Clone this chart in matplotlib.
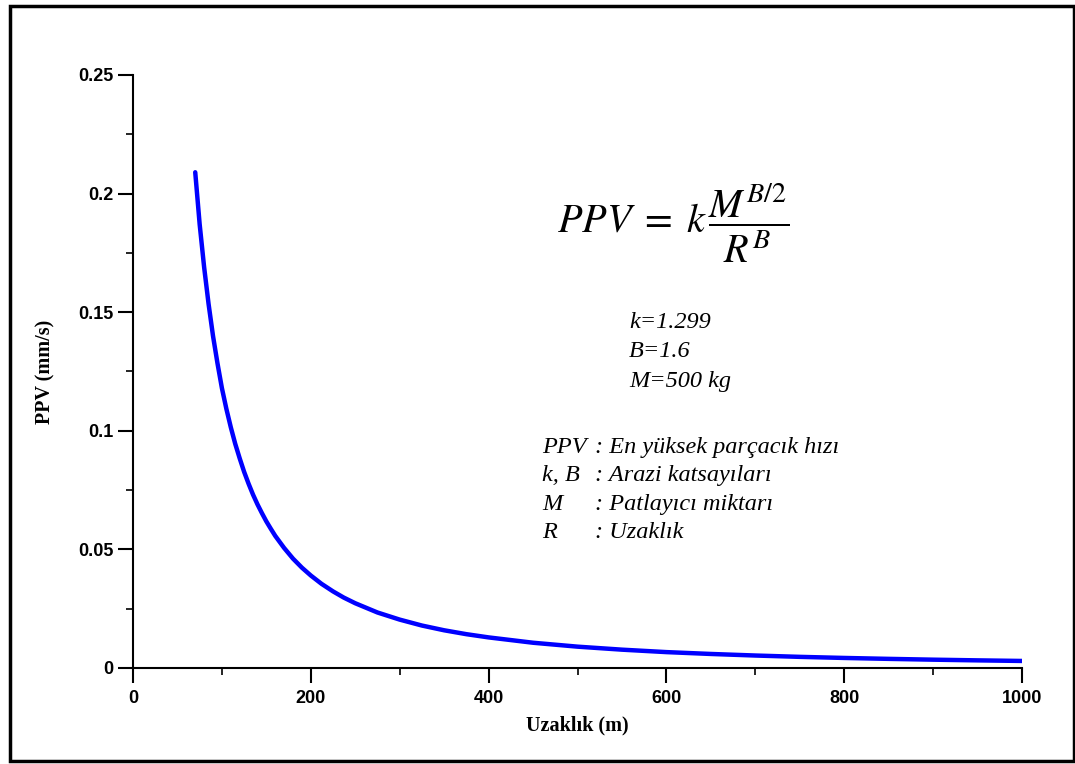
import matplotlib
matplotlib.use('Agg')
import matplotlib.pyplot as plt
from matplotlib.patches import Rectangle
from matplotlib.ticker import MultipleLocator, FormatStrFormatter
import numpy as np

# distance (m) and peak particle velocity (mm/s)
distance = [70, 75, 80, 85, 90, 95, 100, 105, 110, 115, 120, 125, 130, 135,
            140, 145, 150, 155, 160, 170, 180, 190, 200, 212, 225, 237, 250,
            275, 300, 325, 350, 375, 400, 450, 500, 550, 600, 650, 700, 750,
            800, 850, 900, 950, 1000]
ppv = [0.209, 0.187, 0.169, 0.1535, 0.140, 0.1285, 0.118, 0.1093, 0.1015,
       0.0945, 0.0884, 0.0827, 0.0777, 0.0731, 0.0690, 0.0653, 0.0618,
       0.0587, 0.0557, 0.0506, 0.0461, 0.0423, 0.0390, 0.0355, 0.0323,
       0.0297, 0.0273, 0.0234, 0.0204, 0.0179, 0.0159, 0.01426, 0.0129,
       0.01065, 0.0090, 0.00773, 0.0067, 0.00592, 0.00526, 0.00470,
       0.00424, 0.00385, 0.00351, 0.00322, 0.00297]

params = ['k=1.299', 'B=1.6', 'M=500 kg']
symbols = ['PPV', 'k, B', 'M', 'R']
meanings = [': En yüksek parçacık hızı', ': Arazi katsayıları',
            ': Patlayıcı miktarı', ': Uzaklık']

plt.rcParams['mathtext.fontset'] = 'stix'

fig = plt.figure(figsize=(10.75, 7.64), dpi=100)
ax = fig.add_axes([133/1075, 1 - 668/764, (1022-133)/1075, (668-75)/764])

ax.plot(distance, ppv, color='#0000ff', lw=3.2, solid_capstyle='round',
        solid_joinstyle='round')

ax.set_xlim(0, 1000)
ax.set_ylim(0, 0.25)
ax.xaxis.set_major_locator(MultipleLocator(200))
ax.xaxis.set_minor_locator(MultipleLocator(100))
ax.yaxis.set_major_locator(MultipleLocator(0.05))
ax.yaxis.set_minor_locator(MultipleLocator(0.025))
ax.yaxis.set_major_formatter(FormatStrFormatter('%g'))

for s in ['top', 'right']:
    ax.spines[s].set_visible(False)
for s in ['left', 'bottom']:
    ax.spines[s].set_linewidth(1.5)
ax.tick_params(which='major', direction='out', length=11, width=1.5)
ax.tick_params(axis='x', which='major', pad=5)
ax.tick_params(axis='y', which='major', pad=3)
ax.tick_params(which='minor', direction='out', length=5, width=1.2)
for lab in ax.get_xticklabels() + ax.get_yticklabels():
    lab.set_fontfamily('Liberation Sans')
    lab.set_fontweight('bold')
    lab.set_fontsize(13)

ax.set_xlabel('Uzaklık (m)', fontfamily='Liberation Serif', fontweight='bold',
              fontsize=14.5, labelpad=6)
ax.set_ylabel('PPV (mm/s)', fontfamily='Liberation Serif', fontweight='bold',
              fontsize=14.5, labelpad=16)

# formula and notes
fig.text(557/1075, 1 - 223/764, r'$PPV\;=\;k\,\dfrac{M^{B/2}}{R^{B}}$',
         fontsize=29, ha='left', va='center')
for i, t in enumerate(params):
    fig.text(629/1075, 1 - (328 + 29.5*i)/764, t, fontfamily='Liberation Serif',
             style='italic', fontsize=17.5, ha='left', va='baseline')
for i, (sym, mean) in enumerate(zip(symbols, meanings)):
    y = 1 - (453 + 28.5*i)/764
    fig.text(542/1075, y, sym, fontfamily='Liberation Serif', style='italic',
             fontsize=17.5, ha='left', va='baseline')
    fig.text(595/1075, y, mean, fontfamily='Liberation Serif', style='italic',
             fontsize=17.5, ha='left', va='baseline')

# outer frame
fig.patches.append(Rectangle((9.5/1075, 1 - 761/764), 1064/1075, 755/764,
                             transform=fig.transFigure, fill=False,
                             edgecolor='black', lw=2.5))

fig.savefig('out.png', dpi=100)
